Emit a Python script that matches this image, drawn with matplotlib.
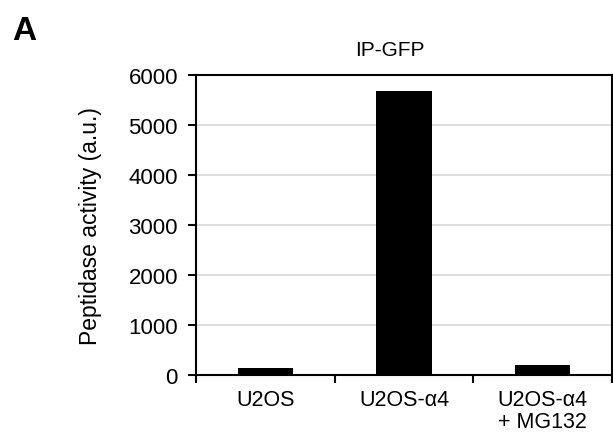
import matplotlib
matplotlib.use("Agg")
import matplotlib.pyplot as plt
import numpy as np

categories = ["U2OS", "U2OS-α4", "U2OS-α4\n+ MG132"]
values = [140, 5675, 205]
yticks = [0, 1000, 2000, 3000, 4000, 5000, 6000]

plt.rcParams['font.family'] = ['Liberation Sans', 'DejaVu Sans']

W, H = 613, 435
fig = plt.figure(figsize=(W / 100, H / 100), dpi=100)
ax = fig.add_axes([196 / W, 1 - 376 / H, 416 / W, 300 / H])

x = np.arange(len(categories))
ax.bar(x, values, width=0.4, color="black", zorder=3)

ax.set_xlim(-0.5, len(categories) - 0.5)
ax.set_ylim(0, 6000)
ax.set_yticks(yticks)
ax.set_yticklabels([str(v) for v in yticks])
ax.yaxis.grid(True, color="#d9d9d9", linewidth=1.2, zorder=0)

ax.set_xticks(x)
ax.set_xticklabels(categories, fontsize=15.5, linespacing=1.1)
ax.tick_params(axis="x", which="major", length=0, pad=10)
ax.set_xticks(np.arange(-0.5, len(categories)), minor=True)
ax.tick_params(axis="x", which="minor", length=6, width=1.5, direction="out")
ax.tick_params(axis="y", length=6, width=1.5, direction="out", labelsize=16, pad=7)

for s in ax.spines.values():
    s.set_linewidth(1.5)
    s.set_color("black")

ax.set_ylabel("Peptidase activity (a.u.)", fontsize=16.5, labelpad=19)

fig.text(390 / W, 1 - 51 / H, "IP-GFP", fontsize=15, ha="center", va="center")
fig.text(12 / W, 1 - 31 / H, "A", fontsize=24, fontweight="bold", ha="left", va="center")

fig.savefig("out.png", dpi=100)
